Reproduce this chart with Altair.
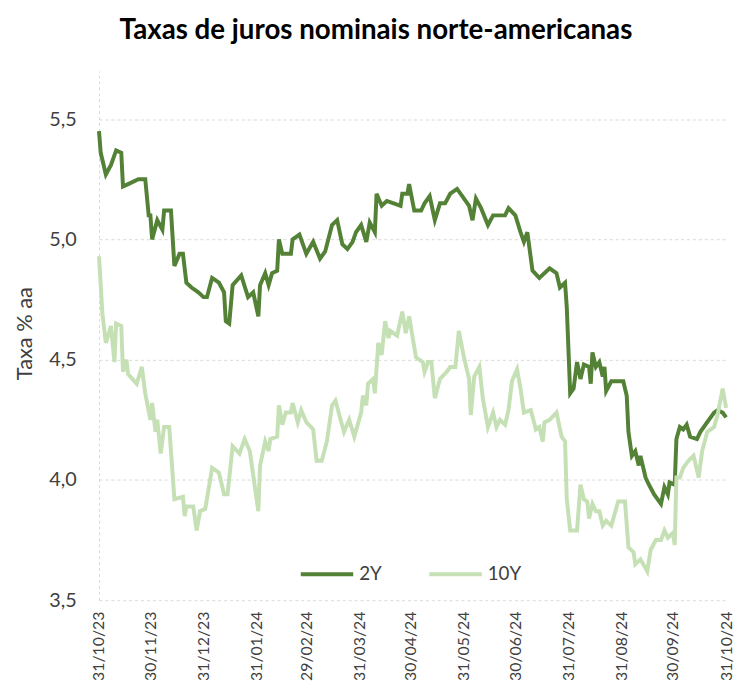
import altair as alt
import pandas as pd

# days since 31/10/2023 and rates (% a.a.)
days_2y = [0, 1, 4, 7, 10, 13, 14, 17, 23, 27, 29, 30, 31, 34, 37, 38, 42, 44, 47, 49,
           51, 54, 58, 61, 63, 66, 70, 73, 74, 76, 78, 83, 87, 90, 93, 94, 97, 99, 101, 104,
           105, 107, 112, 113, 117, 121, 125, 129, 132, 136, 139, 142, 145, 148, 150, 153, 156, 158, 161, 162,
           165, 168, 172, 176, 177, 180, 181, 184, 188, 190, 193, 196, 199, 202, 205, 209, 212, 216, 218, 220,
           223, 227, 230, 233, 237, 239, 243, 246, 248, 250, 253, 257, 263, 267, 269, 272, 273, 275, 277, 279,
           281, 283, 286, 287, 288, 290, 292, 294, 295, 296, 299, 302, 306, 308, 309, 311, 313, 315, 316, 319,
           321, 324, 328, 330, 332, 333, 336, 337, 339, 341, 343, 345, 349, 351, 355, 359, 361, 364, 366]
rate_2y = [5.45, 5.36, 5.27, 5.31, 5.37, 5.36, 5.22, 5.23, 5.25, 5.25, 5.10, 5.10, 5.00, 5.08, 5.04, 5.12, 5.12, 4.89, 4.94, 4.94,
           4.82, 4.80, 4.78, 4.76, 4.76, 4.84, 4.82, 4.78, 4.66, 4.65, 4.81, 4.85, 4.76, 4.78, 4.68, 4.81, 4.86, 4.81, 4.86, 4.87,
           5.00, 4.94, 4.94, 5.00, 5.02, 4.94, 4.99, 4.92, 4.95, 5.06, 5.08, 4.98, 4.96, 4.99, 5.03, 5.06, 4.99, 5.07, 5.03, 5.19,
           5.14, 5.16, 5.15, 5.14, 5.19, 5.19, 5.23, 5.12, 5.12, 5.15, 5.18, 5.08, 5.15, 5.15, 5.19, 5.21, 5.18, 5.14, 5.08, 5.17,
           5.13, 5.06, 5.10, 5.10, 5.10, 5.13, 5.10, 5.03, 4.99, 5.03, 4.87, 4.84, 4.88, 4.86, 4.80, 4.82, 4.72, 4.36, 4.38, 4.49,
           4.42, 4.48, 4.47, 4.40, 4.53, 4.47, 4.49, 4.43, 4.47, 4.37, 4.41, 4.41, 4.41, 4.35, 4.20, 4.10, 4.12, 4.06, 4.10, 4.01,
           3.98, 3.94, 3.90, 3.97, 3.94, 3.99, 3.98, 4.17, 4.22, 4.21, 4.23, 4.18, 4.17, 4.20, 4.24, 4.28, 4.29, 4.28, 4.26]

days_10y = [0, 2, 4, 7, 9, 10, 13, 14, 16, 17, 22, 25, 27, 30, 31, 33, 34, 36, 38, 41,
            44, 49, 50, 51, 55, 57, 59, 62, 63, 66, 70, 73, 75, 78, 82, 85, 88, 90, 93, 94,
            97, 99, 100, 104, 105, 107, 109, 112, 113, 116, 118, 121, 125, 127, 130, 133, 136, 138, 141, 143,
            146, 149, 153, 154, 156, 157, 160, 161, 163, 165, 167, 169, 170, 174, 177, 179, 181, 185, 189, 190,
            192, 194, 196, 199, 203, 205, 208, 210, 213, 216, 217, 219, 222, 224, 227, 230, 232, 234, 237, 239,
            241, 244, 246, 248, 252, 255, 257, 259, 260, 263, 267, 270, 272, 273, 275, 279, 281, 283, 285, 286,
            288, 290, 292, 294, 296, 299, 303, 307, 309, 312, 313, 316, 320, 322, 325, 328, 330, 332, 335, 336,
            337, 339, 341, 344, 347, 350, 352, 355, 359, 361, 364, 366]
rate_10y = [4.93, 4.69, 4.57, 4.64, 4.49, 4.65, 4.64, 4.45, 4.50, 4.44, 4.40, 4.47, 4.36, 4.25, 4.32, 4.20, 4.25, 4.11, 4.22, 4.22,
            3.92, 3.93, 3.85, 3.89, 3.89, 3.79, 3.87, 3.88, 3.92, 4.05, 4.03, 3.94, 3.94, 4.14, 4.11, 4.17, 4.12, 4.02, 3.87, 4.06,
            4.16, 4.12, 4.17, 4.18, 4.31, 4.23, 4.28, 4.28, 4.32, 4.24, 4.29, 4.24, 4.21, 4.08, 4.08, 4.16, 4.31, 4.33, 4.25, 4.20,
            4.25, 4.18, 4.28, 4.35, 4.31, 4.40, 4.42, 4.36, 4.57, 4.52, 4.66, 4.59, 4.62, 4.60, 4.70, 4.61, 4.68, 4.51, 4.49, 4.45,
            4.49, 4.49, 4.34, 4.42, 4.45, 4.47, 4.47, 4.62, 4.51, 4.42, 4.27, 4.43, 4.47, 4.34, 4.22, 4.28, 4.22, 4.25, 4.23, 4.29,
            4.41, 4.46, 4.38, 4.28, 4.29, 4.21, 4.22, 4.16, 4.24, 4.25, 4.28, 4.18, 4.16, 3.92, 3.79, 3.79, 3.98, 3.92, 3.91, 3.84,
            3.90, 3.87, 3.87, 3.81, 3.83, 3.81, 3.91, 3.91, 3.72, 3.70, 3.65, 3.67, 3.62, 3.71, 3.75, 3.75, 3.79, 3.76, 3.78, 3.73,
            4.01, 4.01, 4.05, 4.08, 4.10, 4.01, 4.12, 4.20, 4.22, 4.27, 4.38, 4.30]

tick_dates = ["2023-10-31", "2023-11-30", "2023-12-31", "2024-01-31", "2024-02-29", "2024-03-31",
              "2024-04-30", "2024-05-31", "2024-06-30", "2024-07-31", "2024-08-31", "2024-09-30", "2024-10-31"]
y_ticks = [3.5, 4.0, 4.5, 5.0, 5.5]
series = ["2Y", "10Y"]
colors = ["#538135", "#C5E0B4"]

start = pd.Timestamp("2023-10-31")
df = pd.concat([
    pd.DataFrame({"data": start + pd.to_timedelta(days_2y, unit="D"), "taxa": rate_2y, "serie": "2Y"}),
    pd.DataFrame({"data": start + pd.to_timedelta(days_10y, unit="D"), "taxa": rate_10y, "serie": "10Y"}),
], ignore_index=True)
df["data"] = df["data"].dt.strftime("%Y-%m-%dT00:00:00")


def dt(s):
    y, m, d = (int(p) for p in s.split("-"))
    return alt.DateTime(year=y, month=m, date=d)


ticks = [dt(s) for s in tick_dates]

x = alt.X("data:T",
          scale=alt.Scale(domain=[ticks[0], ticks[-1]], nice=False),
          axis=alt.Axis(values=ticks, format="%d/%m/%y", labelAngle=270, labelFontSize=16,
                        labelColor="#404040", labelPadding=11, ticks=False, domain=False,
                        grid=False, title=None, labelOverlap=False))
y = alt.Y("taxa:Q",
          scale=alt.Scale(domain=[3.5, 5.7], nice=False, zero=False),
          axis=alt.Axis(values=y_ticks, labelExpr="replace(format(datum.value, '.1f'), '.', ',')",
                        labelFontSize=20, labelColor="#404040", labelPadding=23, ticks=False,
                        grid=True, gridDash=[3, 3], gridColor="#d9d9d9",
                        domain=True, domainDash=[3, 3], domainColor="#d9d9d9",
                        title="Taxa % aa", titleFontSize=22, titleFontWeight="normal",
                        titleColor="#404040", titleX=-75, titleY=265, titleBaseline="middle"))
color = alt.Color("serie:N",
                  scale=alt.Scale(domain=series, range=colors),
                  legend=alt.Legend(orient="none", legendX=202, legendY=480, direction="horizontal",
                                    title=None, symbolType="stroke", symbolSize=2809,
                                    symbolStrokeWidth=4, labelFontSize=19, labelColor="#404040",
                                    labelOffset=4, columnPadding=40, padding=0))

base = alt.Chart(df).mark_line(strokeWidth=4).encode(x=x, y=y, color=color)
layer2 = base.transform_filter(alt.datum.serie == "2Y")
layer10 = base.transform_filter(alt.datum.serie == "10Y")

chart = alt.layer(layer2, layer10).properties(
    width=634, height=535,
    autosize=alt.AutoSizeParams(type="none"),
    padding={"left": 92, "top": 60, "right": 9, "bottom": 84},
    title=alt.TitleParams("Taxas de juros nominais norte-americanas", fontSize=28, fontWeight="bold",
                          font="Lato", color="#000000", anchor="middle", dx=-37, offset=26),
).configure(font="Lato").configure_view(stroke=None)

chart.save("out.html", embed_options={"renderer": "svg", "actions": False})
